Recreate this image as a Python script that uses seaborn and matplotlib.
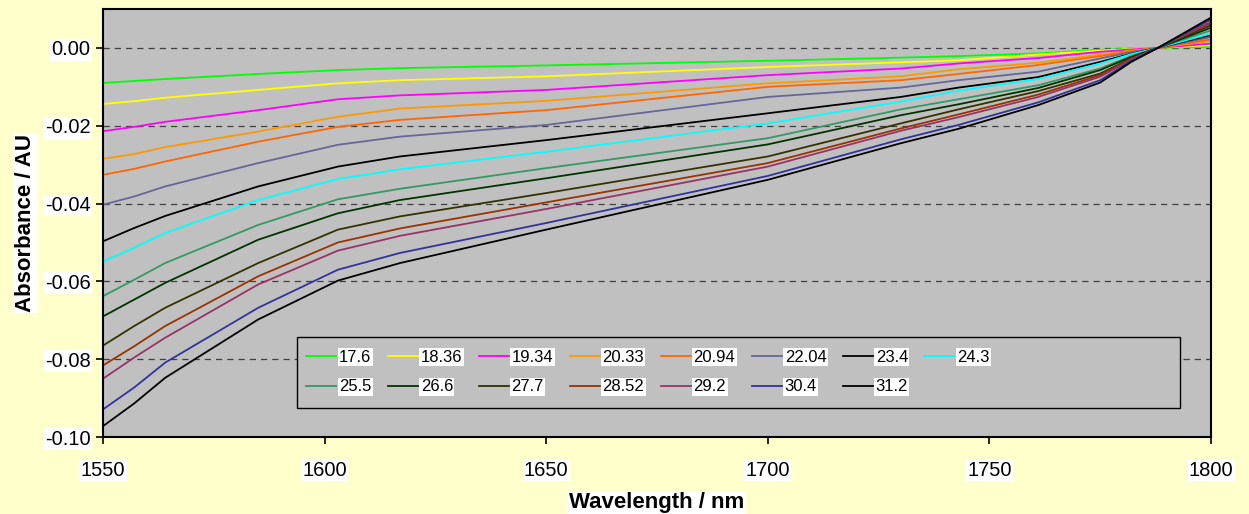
import matplotlib
matplotlib.use("Agg")
import matplotlib.pyplot as plt
import seaborn as sns
import pandas as pd
from matplotlib.patches import Rectangle
from matplotlib.ticker import FormatStrFormatter

wavelength = [1550, 1557, 1564, 1585, 1603, 1617, 1650, 1700, 1730, 1743, 1761, 1775, 1782, 1788, 1800]

labels = ["17.6", "18.36", "19.34", "20.33", "20.94", "22.04", "23.4", "24.3",
          "25.5", "26.6", "27.7", "28.52", "29.2", "30.4", "31.2"]

s_17_6 = [-0.0090, -0.0085, -0.0080, -0.0067, -0.0057, -0.0052, -0.0045, -0.0033, -0.0025, -0.0021, -0.0014, -0.0005, -0.0002, 0.0, 0.0003]
s_18_36 = [-0.0144, -0.0137, -0.0128, -0.0108, -0.0091, -0.0083, -0.0073, -0.0049, -0.0037, -0.0032, -0.0017, -0.0007, -0.0003, 0.0, 0.0007]
s_19_34 = [-0.0214, -0.0203, -0.0190, -0.0160, -0.0132, -0.0122, -0.0108, -0.0070, -0.0053, -0.0040, -0.0026, -0.0010, -0.0004, 0.0, 0.0011]
s_20_33 = [-0.0285, -0.0273, -0.0255, -0.0215, -0.0177, -0.0156, -0.0136, -0.0091, -0.0073, -0.0055, -0.0038, -0.0017, -0.0007, 0.0, 0.0018]
s_20_94 = [-0.0326, -0.0311, -0.0292, -0.0241, -0.0203, -0.0185, -0.0160, -0.0100, -0.0083, -0.0067, -0.0044, -0.0021, -0.0009, 0.0, 0.0022]
s_22_04 = [-0.0403, -0.0382, -0.0356, -0.0296, -0.0249, -0.0228, -0.0198, -0.0126, -0.0102, -0.0083, -0.0061, -0.0027, -0.0011, 0.0, 0.0028]
s_23_4 = [-0.0497, -0.0463, -0.0432, -0.0356, -0.0305, -0.0279, -0.0237, -0.0168, -0.0126, -0.0102, -0.0075, -0.0036, -0.0015, 0.0, 0.0033]
s_24_3 = [-0.0549, -0.0514, -0.0476, -0.0391, -0.0337, -0.0312, -0.0267, -0.0194, -0.0138, -0.0110, -0.0080, -0.0040, -0.0016, 0.0, 0.0037]
s_25_5 = [-0.0638, -0.0596, -0.0553, -0.0455, -0.0389, -0.0362, -0.0309, -0.0232, -0.0158, -0.0132, -0.0096, -0.0053, -0.0021, 0.0, 0.0045]
s_26_6 = [-0.0690, -0.0647, -0.0604, -0.0493, -0.0425, -0.0391, -0.0335, -0.0248, -0.0173, -0.0145, -0.0103, -0.0057, -0.0023, 0.0, 0.0052]
s_27_7 = [-0.0765, -0.0715, -0.0668, -0.0553, -0.0467, -0.0433, -0.0373, -0.0279, -0.0194, -0.0158, -0.0111, -0.0066, -0.0027, 0.0, 0.0058]
s_28_52 = [-0.0816, -0.0767, -0.0715, -0.0587, -0.0500, -0.0464, -0.0397, -0.0296, -0.0207, -0.0171, -0.0120, -0.0070, -0.0028, 0.0, 0.0063]
s_29_2 = [-0.0850, -0.0796, -0.0745, -0.0608, -0.0521, -0.0483, -0.0414, -0.0305, -0.0213, -0.0178, -0.0126, -0.0074, -0.0030, 0.0, 0.0067]
s_30_4 = [-0.0929, -0.0873, -0.0809, -0.0668, -0.0570, -0.0527, -0.0450, -0.0329, -0.0235, -0.0198, -0.0140, -0.0083, -0.0033, 0.0, 0.0073]
s_31_2 = [-0.0972, -0.0914, -0.0848, -0.0698, -0.0598, -0.0553, -0.0467, -0.0339, -0.0245, -0.0208, -0.0147, -0.0089, -0.0036, 0.0, 0.0078]

series = [s_17_6, s_18_36, s_19_34, s_20_33, s_20_94, s_22_04, s_23_4, s_24_3,
          s_25_5, s_26_6, s_27_7, s_28_52, s_29_2, s_30_4, s_31_2]

colors = ["#00FF00", "#FFFF00", "#FF00FF", "#FF9900", "#FF6600", "#666699", "#000000", "#00FFFF",
          "#339966", "#003300", "#333300", "#993300", "#993366", "#333399", "#000000"]

rows = []
for lab, vals in zip(labels, series):
    for w, v in zip(wavelength, vals):
        rows.append({"Wavelength": w, "Absorbance": v, "series": lab})
df = pd.DataFrame(rows)

plt.rcParams["font.family"] = ["Liberation Sans", "DejaVu Sans"]
plt.rcParams["axes.unicode_minus"] = False

fig = plt.figure(figsize=(12.49, 5.14), dpi=100, facecolor="#FFFFCC")
ax = fig.add_axes([0.0825, 0.1498, 0.8871, 0.8327])
ax.set_facecolor("#C0C0C0")

sns.lineplot(data=df, x="Wavelength", y="Absorbance", hue="series", hue_order=labels,
             palette=dict(zip(labels, colors)), linewidth=1.3, ax=ax, legend=True)

ax.set_xlim(1550, 1800)
ax.set_ylim(-0.10, 0.01)
ax.set_xticks([1550, 1600, 1650, 1700, 1750, 1800])
ax.set_yticks([0.0, -0.02, -0.04, -0.06, -0.08, -0.10])
ax.yaxis.set_major_formatter(FormatStrFormatter("%.2f"))

for y in [0.0, -0.02, -0.04, -0.06, -0.08]:
    ax.axhline(y, color="#404040", linestyle=(0, (5, 4)), linewidth=0.9, zorder=0.5)

for sp in ax.spines.values():
    sp.set_color("black")
    sp.set_linewidth(1.5)

ax.tick_params(axis="both", direction="out", length=5, width=1.2, labelsize=14.5, colors="black")
ax.tick_params(axis="x", pad=12)
ax.tick_params(axis="y", pad=4)
for t in ax.get_xticklabels() + ax.get_yticklabels():
    t.set_bbox(dict(facecolor="white", edgecolor="none", pad=1))

ax.set_xlabel("Wavelength / nm", fontsize=16, fontweight="bold", labelpad=9,
              bbox=dict(facecolor="white", edgecolor="none", pad=1))
ax.set_ylabel("Absorbance / AU", fontsize=16, fontweight="bold", labelpad=6,
              bbox=dict(facecolor="white", edgecolor="none", pad=1))

# legend box, then entries filled row by row in 8 columns
ax.add_patch(Rectangle((0.1751, 0.0678), 0.797, 0.1659, transform=ax.transAxes,
                       facecolor="#C0C0C0", edgecolor="black", linewidth=1.0, zorder=4))
handles, labs = ax.get_legend_handles_labels()
order = []
for c in range(8):
    order.append(c)
    if c + 8 < len(handles):
        order.append(c + 8)
leg = ax.legend([handles[i] for i in order], [labs[i] for i in order], ncol=8,
                loc="upper left", bbox_to_anchor=(0.1832, 0.204),
                fontsize=12, frameon=False, handlelength=1.8, handletextpad=0.18,
                columnspacing=0.98, borderaxespad=0, borderpad=0, labelspacing=0.88)
leg.set_zorder(5)
for t in leg.get_texts():
    t.set_bbox(dict(facecolor="white", edgecolor="none", pad=1))

fig.savefig("out.png", dpi=100, facecolor=fig.get_facecolor())
